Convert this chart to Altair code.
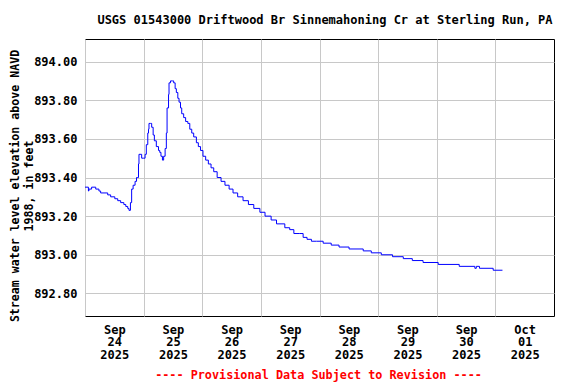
import altair as alt
import pandas as pd
from datetime import datetime, timedelta, timezone

# Hours since 2025-09-24 00:00 and stage (ft above NAVD 1988)
hours = [0, 1.4, 1.6, 2.7, 4.4, 5.7, 6.4, 9.3, 10.5, 12.2, 13.4, 14.6, 15.9, 16.7, 17.5, 18.0,
         18.6, 19.1, 19.7, 20.5, 21.1, 21.6, 21.9, 22.1, 22.9, 23.2, 24.0, 24.6, 25.1, 25.7,
         26.0, 26.2, 26.8, 27.3, 27.9, 28.4, 29.2, 30.1, 30.6, 31.1, 31.7, 32.2, 32.8, 33.3,
         33.6, 34.2, 34.4, 35.0, 35.8, 36.3, 36.9, 37.4, 38.0, 38.5, 39.1, 39.6, 40.4, 41.2,
         42.1, 42.9, 43.7, 44.5, 45.6, 46.4, 47.3, 48.3, 49.4, 50.5, 51.6, 52.7, 54.1, 55.7,
         57.3, 59.0, 60.6, 62.5, 64.7, 66.9, 69.1, 71.6, 73.7, 76.2, 78.4, 81.8, 83.8, 85.5,
         87.7, 89.3, 90.9, 92.7, 94.8, 97.5, 100.8, 104.0, 108.1, 113.9, 117.2, 121.3, 125.9,
         130.3, 134.0, 138.4, 144.6, 153.2, 159.6, 160.2, 161.5, 167.1, 170.9]
stage = [893.35, 893.33, 893.34, 893.35, 893.34, 893.33, 893.32, 893.31, 893.30, 893.29,
         893.28, 893.27, 893.26, 893.25, 893.24, 893.23, 893.27, 893.34, 893.36, 893.38,
         893.40, 893.40, 893.47, 893.52, 893.52, 893.50, 893.50, 893.52, 893.57, 893.63,
         893.65, 893.68, 893.68, 893.66, 893.62, 893.59, 893.56, 893.54, 893.53, 893.51,
         893.49, 893.51, 893.55, 893.63, 893.76, 893.83, 893.89, 893.90, 893.90, 893.89,
         893.86, 893.84, 893.81, 893.79, 893.76, 893.73, 893.71, 893.69, 893.68, 893.65,
         893.63, 893.61, 893.58, 893.56, 893.54, 893.51, 893.49, 893.47, 893.45, 893.43,
         893.40, 893.38, 893.36, 893.34, 893.32, 893.30, 893.28, 893.26, 893.24, 893.22,
         893.20, 893.18, 893.16, 893.14, 893.13, 893.11, 893.11, 893.09, 893.08, 893.07,
         893.07, 893.06, 893.05, 893.04, 893.03, 893.02, 893.01, 893.00, 892.99, 892.98,
         892.97, 892.96, 892.95, 892.94, 892.93, 892.94, 892.93, 892.92, 892.92]

title_text = "USGS 01543000 Driftwood Br Sinnemahoning Cr at Sterling Run, PA"
y_title_lines = ["Stream water level elevation above NAVD", "1988, in feet"]
footer_text = "---- Provisional Data Subject to Revision ----"
y_ticks = [892.8, 893.0, 893.2, 893.4, 893.6, 893.8, 894.0]
x_days = [(2025, 9, 24), (2025, 9, 25), (2025, 9, 26), (2025, 9, 27), (2025, 9, 28),
          (2025, 9, 29), (2025, 9, 30), (2025, 10, 1)]

start = datetime(2025, 9, 24, tzinfo=timezone.utc)
times = [(start + timedelta(hours=h)).strftime("%Y-%m-%dT%H:%M:%SZ") for h in hours]
df = pd.DataFrame({"time": times, "stage": stage})

FONT = "DejaVu Sans Mono"
W, H = 469, 277

x_scale = alt.Scale(
    type="utc",
    domain=[alt.DateTime(year=2025, month=9, date=24, utc=True),
            alt.DateTime(year=2025, month=10, date=2, utc=True)],
)
x_axis = alt.Axis(
    values=[alt.DateTime(year=y, month=m, date=d, utc=True) for (y, m, d) in x_days],
    title=None, grid=True, gridColor="#c8c8c8", gridWidth=1, ticks=False, domain=False,
    labelExpr="[utcFormat(datum.value, '%b'), utcFormat(datum.value, '%d'), utcFormat(datum.value, '%Y')]",
    labelOffset=29.3, labelPadding=8, labelLineHeight=12.7, labelFont=FONT, labelFontSize=12,
    labelFontWeight="bold", labelColor="black", labelBaseline="top", labelAlign="center",
    labelFlush=False, labelOverlap=False,
)
y_axis = alt.Axis(
    values=y_ticks, format=".2f", title=None, grid=True, gridColor="#c8c8c8", gridWidth=1,
    ticks=False, domain=False, labelPadding=8, labelFont=FONT, labelFontSize=12,
    labelFontWeight="bold", labelColor="black",
)

line = alt.Chart(df).mark_line(color="#0000ff", strokeWidth=1, interpolate="step-after").encode(
    x=alt.X("time:T", scale=x_scale, axis=x_axis),
    y=alt.Y("stage:Q", scale=alt.Scale(domain=[892.683, 894.117], nice=False, zero=False), axis=y_axis),
)

def text_mark(s, x, y, angle=0, color="black", size=12):
    return alt.Chart(pd.DataFrame({"label": [s]})).mark_text(
        font=FONT, fontSize=size, fontWeight="bold", color=color, align="center",
        baseline="middle", angle=angle,
    ).encode(text="label:N", x=alt.value(x), y=alt.value(y))

title_mark = text_mark(title_text, 240, -19, size=12)
ytitle1 = text_mark(y_title_lines[0], -69.5, 147, angle=270, size=11.6)
ytitle2 = text_mark(y_title_lines[1], -55.5, 147, angle=270, size=11.6)
footer_mark = text_mark(footer_text, W / 2 - 1, 336, color="#ff0000", size=11.8)

chart = alt.layer(line, title_mark, ytitle1, ytitle2, footer_mark).properties(
    width=W, height=H,
    autosize=alt.AutoSizeParams(type="none"),
    padding={"left": 77, "top": 31, "right": 14, "bottom": 66},
).configure_view(stroke="black", strokeWidth=1)

chart.save("out.html", embed_options={"renderer": "svg", "actions": False})
